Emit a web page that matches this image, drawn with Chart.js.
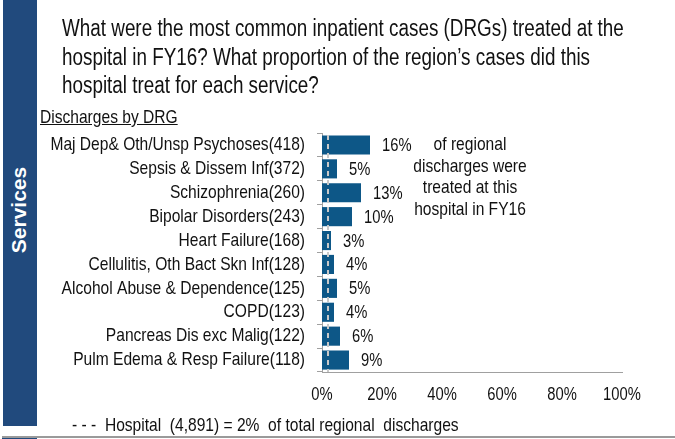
<!DOCTYPE html>
<html>
<head>
<meta charset="utf-8">
<script src="https://cdn.jsdelivr.net/npm/chart.js@4"></script>
<style>
  html, body { margin: 0; padding: 0; background: #fff; }
  body { width: 675px; height: 439px; position: relative; overflow: hidden;
         font-family: 'Liberation Sans', Arial, sans-serif; color: #111; }
  #chart { position: absolute; left: 0; top: 0; }
  .band { position: absolute; left: 3px; top: 0; width: 34px; height: 426px; background: #214a7d; }
  .band2 { position: absolute; left: 2px; top: 438px; width: 35px; height: 1px; background: #214a7d; }
  .rule { position: absolute; left: 2px; top: 436px; width: 673px; height: 2px; background: #9a9a9a; }
  .side { position: absolute; left: 19px; top: 210px; transform: translate(-50%, -50%) rotate(-90deg);
          color: #fff; font-weight: bold; font-size: 21px; white-space: nowrap; }
  .narrow { transform: scaleX(0.82); transform-origin: 0 0; white-space: nowrap; }
  .title { position: absolute; left: 62px; top: 14px; font-size: 23px; line-height: 28.5px; }
  .sub { position: absolute; left: 40px; top: 106px; font-size: 19px; text-decoration: underline; }
  .note { position: absolute; left: 470px; top: 133px; transform: translateX(-50%) scaleX(0.82); text-align: center;
          font-size: 19px; line-height: 21.7px; white-space: nowrap; }
  .foot { position: absolute; left: 72px; top: 414px; font-size: 19px; white-space: pre; }
</style>
</head>
<body>
<canvas id="chart" width="675" height="439"></canvas>
<div class="band"></div>
<div class="band2"></div>
<div class="rule"></div>
<div class="side">Services</div>
<div class="title narrow">What were the most common inpatient cases (DRGs) treated at the<br>hospital in FY16? What proportion of the region’s cases did this<br>hospital treat for each service?</div>
<div class="sub narrow">Discharges by DRG</div>
<div class="note">of regional<br>discharges were<br>treated at this<br>hospital in FY16</div>
<div class="foot narrow">- - -  Hospital  (4,891) = 2%  of total regional  discharges</div>
<script>
var drgNames = ['Maj Dep& Oth/Unsp Psychoses', 'Sepsis & Dissem Inf', 'Schizophrenia', 'Bipolar Disorders',
                'Heart Failure', 'Cellulitis, Oth Bact Skn Inf', 'Alcohol Abuse & Dependence', 'COPD',
                'Pancreas Dis exc Malig', 'Pulm Edema & Resp Failure'];
var discharges = [418, 372, 260, 243, 168, 128, 125, 123, 122, 118];
var regionalShare = [16, 5, 13, 10, 3, 4, 5, 4, 6, 9];
var xTicks = [0, 20, 40, 60, 80, 100];
var hospitalShare = 2;

var FONT = "'Liberation Sans', Arial, sans-serif";
var NARROW = 0.82; // no Arial Narrow installed, squeeze Liberation Sans instead
var labels = drgNames.map(function (n, i) { return n + '(' + discharges[i] + ')'; });

// draw the axis labels squeezed horizontally around their anchor point
function narrowLabels(scale) {
    scale.drawLabels = function (area) {
        var ctx = this.ctx;
        this.getLabelItems(area).forEach(function (it) {
            var o = it.options;
            ctx.save();
            ctx.translate(o.translation[0], o.translation[1]);
            ctx.scale(NARROW, 1);
            ctx.font = it.font.string;
            ctx.fillStyle = o.color;
            ctx.textAlign = o.textAlign;
            ctx.textBaseline = o.textBaseline;
            ctx.fillText(it.label, 0, it.textOffset);
            ctx.restore();
        });
    };
}

// value labels + hospital average dashed line
var extras = {
    id: 'extras',
    beforeDraw: function (chart) {
        narrowLabels(chart.scales.x);
        narrowLabels(chart.scales.y);
    },
    afterDatasetsDraw: function (chart) {
        var ctx = chart.ctx;
        var area = chart.chartArea;
        var hx = chart.scales.x.getPixelForValue(hospitalShare);
        ctx.save();
        ctx.strokeStyle = '#c9c9c9';
        ctx.lineWidth = 2;
        ctx.setLineDash([5, 4]);
        ctx.beginPath();
        ctx.moveTo(hx, area.top + 2);
        ctx.lineTo(hx, area.bottom);
        ctx.stroke();
        ctx.setLineDash([]);

        ctx.fillStyle = '#111';
        ctx.font = '18px ' + FONT;
        ctx.textAlign = 'left';
        ctx.textBaseline = 'middle';
        chart.getDatasetMeta(0).data.forEach(function (bar, i) {
            ctx.save();
            ctx.translate(bar.x + 12, bar.y + 1);
            ctx.scale(NARROW, 1);
            ctx.fillText(regionalShare[i] + '%', 0, 0);
            ctx.restore();
        });
        ctx.restore();
    }
};

new Chart(document.getElementById('chart'), {
    type: 'bar',
    data: {
        labels: labels,
        datasets: [{
            data: regionalShare,
            backgroundColor: '#0d5787',
            barPercentage: 0.8,
            categoryPercentage: 1
        }]
    },
    options: {
        indexAxis: 'y',
        responsive: false,
        animation: false,
        layout: { padding: { top: 133, right: 53, left: 0, bottom: 0 } },
        plugins: { legend: { display: false }, tooltip: { enabled: false } },
        scales: {
            x: {
                min: 0,
                max: 100,
                afterBuildTicks: function (s) { s.ticks = xTicks.map(function (v) { return { value: v }; }); },
                afterFit: function (s) { s.height = 67; },
                grid: { display: false, drawTicks: false },
                border: { display: true, color: '#a0a0a0', width: 1 },
                ticks: {
                    padding: 12,
                    color: '#111',
                    font: { family: FONT, size: 18 },
                    callback: function (v) { return v + '%'; }
                }
            },
            y: {
                afterFit: function (s) { s.width = 322; },
                grid: { offset: true, drawOnChartArea: false, drawTicks: true, tickLength: 5, color: '#a0a0a0' },
                border: { display: true, color: '#a0a0a0', width: 1 },
                ticks: {
                    padding: 12,
                    color: '#111',
                    autoSkip: false,
                    font: { family: FONT, size: 19 }
                }
            }
        }
    },
    plugins: [extras]
});
</script>
</body>
</html>
